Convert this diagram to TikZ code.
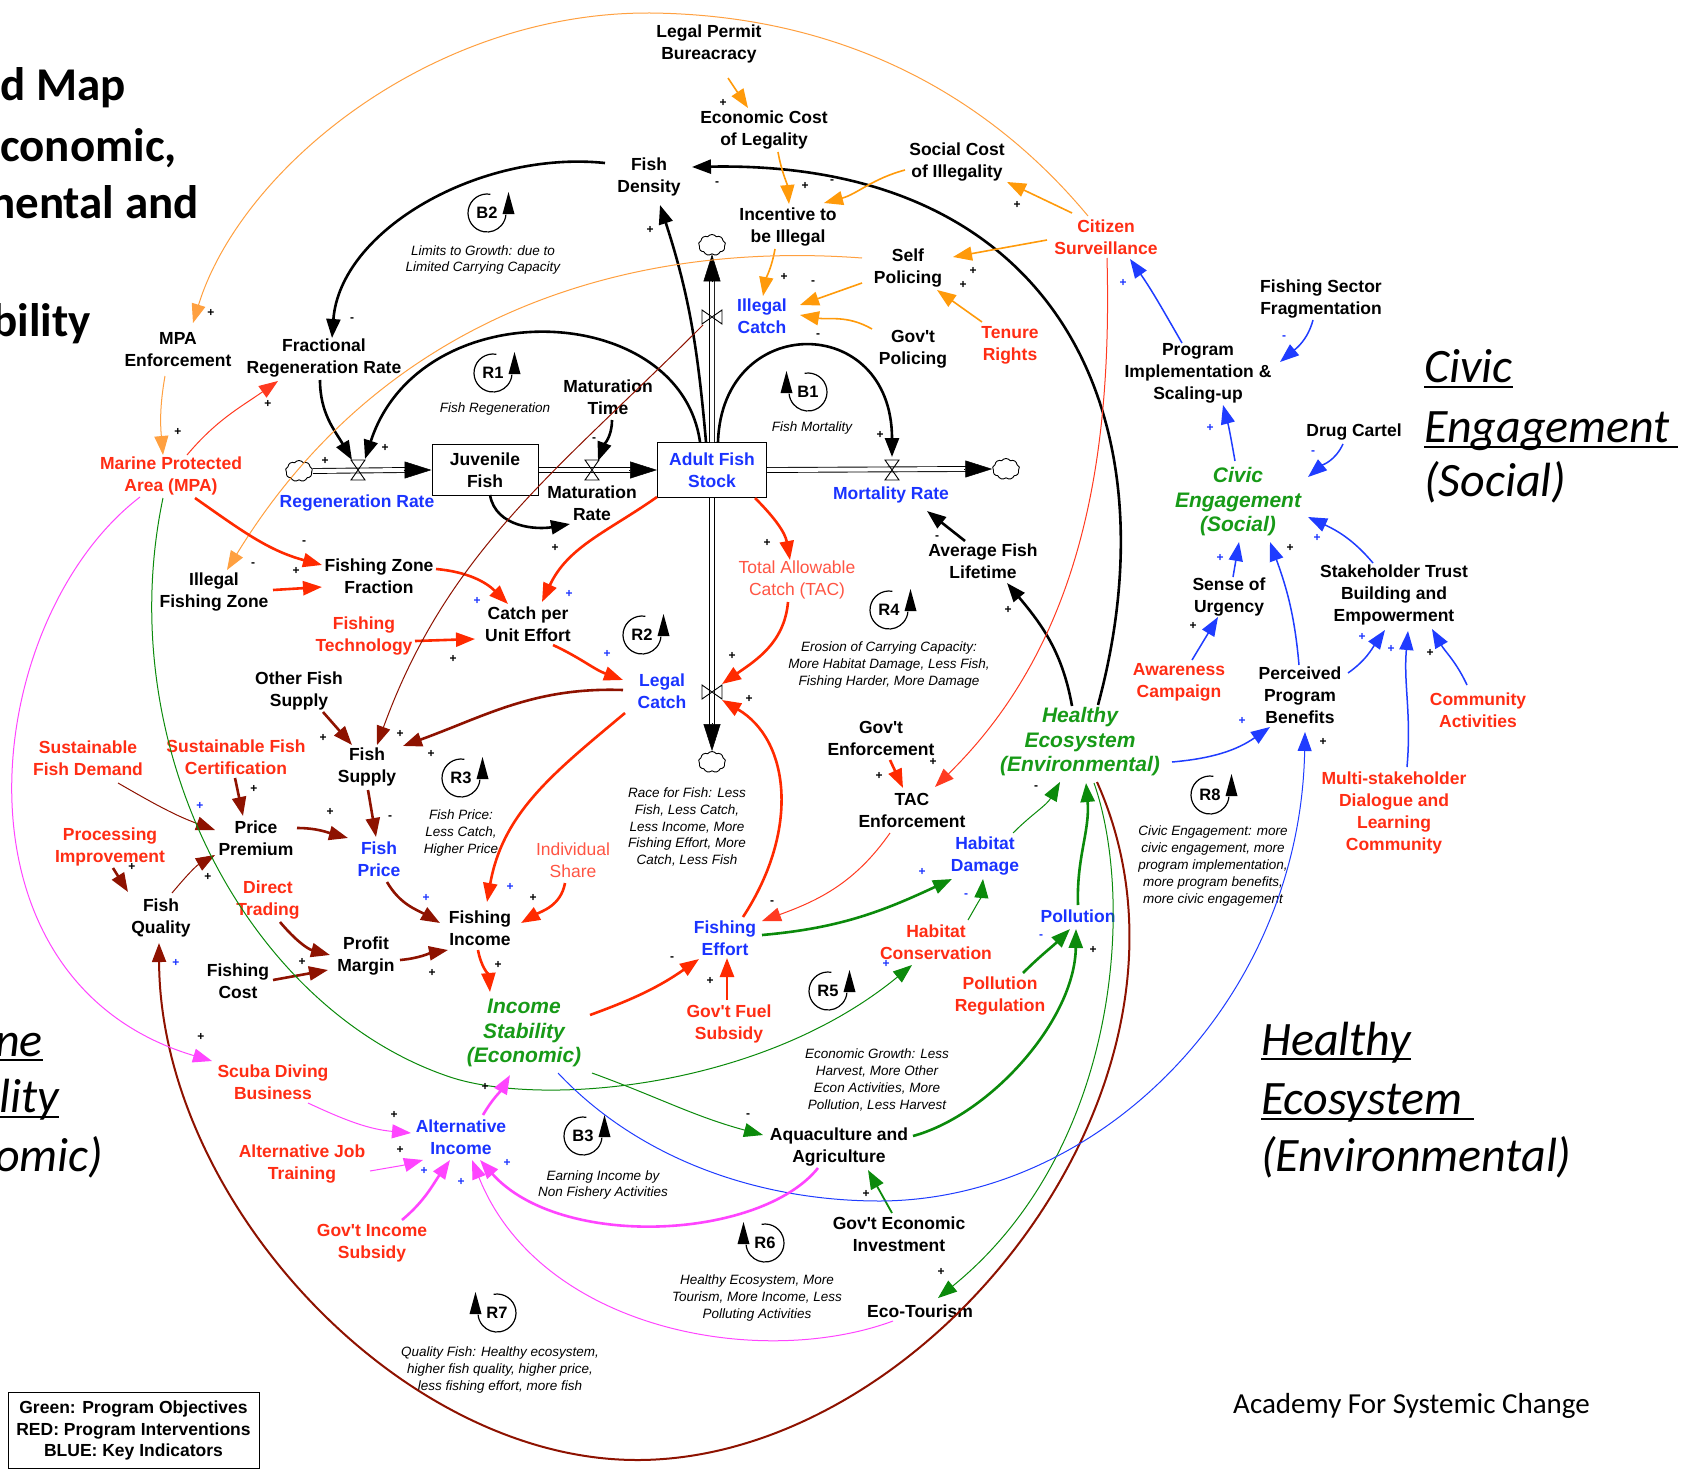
\documentclass[tikz,border=0pt]{standalone}
\usepackage{fontspec}
\setmainfont{Liberation Sans}[Ligatures=TeXOff]
\newfontfamily\calfont{Carlito}
\usetikzlibrary{arrows.meta,shapes.symbols}
\definecolor{tBlue}{HTML}{1A33FF}
\definecolor{tRed}{HTML}{FF2D14}
\definecolor{tRedL}{HTML}{FF5544}
\definecolor{tGreen}{HTML}{179A17}
\definecolor{cOrange}{HTML}{FF9A0A}
\definecolor{cOrangeL}{HTML}{FFA040}
\definecolor{cRed}{HTML}{FF2A00}
\definecolor{cRedL}{HTML}{FF3A20}
\definecolor{cMar}{HTML}{8E1200}
\definecolor{cGreen}{HTML}{0B8A0B}
\definecolor{cBlue}{HTML}{1F3CFF}
\definecolor{cMag}{HTML}{FF45FF}
\tikzset{
 tipA/.tip={Triangle[length=19pt,width=14pt]},
 nv/.style={font=\bfseries\fontsize{17.5}{22}\selectfont,align=center,inner sep=1pt},
 nvb/.style={nv,text=tBlue},
 nvr/.style={nv,text=tRed},
 nvl/.style={font=\fontsize{17.5}{22}\selectfont,align=center,inner sep=1pt,text=tRedL},
 nvg/.style={font=\bfseries\itshape\fontsize{21}{24.5}\selectfont,align=center,inner sep=1pt,text=tGreen},
 ann/.style={font=\itshape\fontsize{13.5}{16.8}\selectfont,align=center,inner sep=0pt},
 sg/.style={font=\bfseries\fontsize{12}{12}\selectfont,inner sep=0pt},
 sgb/.style={sg,text=tBlue},
 looplab/.style={font=\bfseries\fontsize{16.5}{16.5}\selectfont,inner sep=0pt},
 ablk/.style={draw=black,line width=2.6pt,-{tipA}},
 aorg/.style={draw=cOrange,line width=1.6pt,-{tipA}},
 aorgt/.style={draw=cOrangeL,line width=1pt,-{tipA}},
 ared/.style={draw=cRed,line width=2.6pt,-{tipA}},
 aredt/.style={draw=cRedL,line width=1pt,-{tipA}},
 amar/.style={draw=cMar,line width=2.6pt,-{tipA}},
 amart/.style={draw=cMar,line width=1pt,-{tipA}},
 agrn/.style={draw=cGreen,line width=2.6pt,-{tipA}},
 agrnt/.style={draw=cGreen,line width=1pt,-{tipA}},
 ablu/.style={draw=cBlue,line width=1.5pt,-{tipA}},
 ablut/.style={draw=cBlue,line width=1pt,-{tipA}},
 amag/.style={draw=cMag,line width=2.6pt,-{tipA}},
 amagt/.style={draw=cMag,line width=1pt,-{tipA}},
 flowpipe/.style={draw=black,double=white,double distance=4pt,line width=0.9pt},
 flowtip/.style={draw=black,line width=0.5pt,-{Triangle[length=27pt,width=17pt]}},
 cloudst/.style={cloud,draw,cloud puffs=9,cloud puff arc=110,aspect=1.3,minimum width=27pt,minimum height=21pt,inner sep=0pt,line width=0.9pt,fill=white},
 bigtitle/.style={font=\calfont\bfseries\fontsize{47}{56}\selectfont,inner sep=0pt,anchor=base west},
 bigital/.style={font=\calfont\itshape\fontsize{48}{58}\selectfont,inner sep=0pt,anchor=base west},
 pics/hglass/.style={code={\draw[line width=0.9pt] (-7,10)--(7,10)--(-7,-10)--(7,-10)--cycle;}},
 pics/bowtie/.style={code={\draw[line width=0.9pt] (-10,7)--(-10,-7)--(10,7)--(10,-7)--cycle;}},
 pics/loopr/.style={code={\draw[line width=1.2pt] (80:19) arc[start angle=80,end angle=355,radius=19]; \fill (15.5,-1)--(27.5,-1)--(21.5,21)--cycle;}},
 pics/loopl/.style={code={\draw[line width=1.2pt] (100:19) arc[start angle=100,end angle=-175,radius=19]; \fill (-15.5,-1)--(-27.5,-1)--(-21.5,21)--cycle;}},
}
\begin{document}
\begin{tikzpicture}[x=1pt,y=1pt]
\fill[white] (0,0) rectangle (1688,-1469);
\useasboundingbox (0,0) rectangle (1688,-1469);

% ---------- titles ----------
\node[bigtitle] (tt1) at (0,-101) {d Map};
\node[bigtitle] (tt2) at (0,-161) {conomic,};
\node[bigtitle] (tt3) at (-10,-218) {nental and};
\node[bigtitle] (tt4) at (-8,-336) {bility};
\node[bigital] (ts1) at (-5,-1056) {ne};
\node[bigital] (ts2) at (-1,-1112) {lity};
\node[bigital] (ts3) at (-5,-1171) {omic)};
\draw[line width=2.4pt] ([yshift=-4]ts1.base west) -- ([yshift=-4]ts1.base east);
\draw[line width=2.4pt] ([yshift=-5]ts2.base west) -- ([yshift=-5]ts2.base east);
\node[bigital] (rc1) at (1424,-382) {Civic};
\node[bigital] (rc2) at (1424,-442) {Engagement};
\node[bigital] (rc3) at (1424,-496) {(Social)};
\draw[line width=2.4pt] ([yshift=-5]rc1.base west) -- ([yshift=-5]rc1.base east);
\draw[line width=2.4pt] ([yshift=-5]rc2.base west) -- ([yshift=-5,xshift=8]rc2.base east);
\node[bigital] (rh1) at (1261,-1055) {Healthy};
\node[bigital] (rh2) at (1261,-1114) {Ecosystem};
\node[bigital] (rh3) at (1261,-1171) {(Environmental)};
\draw[line width=2.4pt] ([yshift=-4]rh1.base west) -- ([yshift=-4]rh1.base east);
\draw[line width=2.4pt] ([yshift=-5]rh2.base west) -- ([yshift=-5,xshift=12]rh2.base east);
\node[font=\calfont\fontsize{29}{34}\selectfont,inner sep=0pt,anchor=base west] (acad) at (1233,-1413) {Academy For Systemic Change};
\node[draw,line width=1pt,minimum width=251pt,minimum height=76pt,align=center,font=\bfseries\fontsize{17.5}{21.5}\selectfont] (leg) at (133.5,-1430.5) {Green: Program Objectives\\RED: Program Interventions\\BLUE: Key Indicators};

% ---------- stock-flow structure ----------
\node[cloudst] (cl1) at (299,-471) {};
\node[cloudst] (cl2) at (1006,-469) {};
\node[cloudst] (cl3) at (712,-245) {};
\node[cloudst] (cl4) at (712,-762) {};
\node[nv,draw,line width=1pt,minimum width=106pt,minimum height=51pt] (jf) at (485,-470) {Juvenile\\Fish};
\node[nvb,draw=black,line width=1pt,minimum width=109pt,minimum height=55pt] (afs) at (712,-470) {Adult Fish\\Stock};
\coordinate (rv) at (358,-470);
\coordinate (mvv) at (592,-470);
\coordinate (mv) at (892,-470);
\coordinate (icv) at (712,-317);
\coordinate (lcv) at (712,-692);
\draw[flowpipe] (cl1.east) -- ([xshift=-26]jf.west);
\draw[flowtip] ([xshift=-28]jf.west) -- (jf.west);
\draw[flowpipe] (jf.east) -- ([xshift=-26]afs.west);
\draw[flowtip] ([xshift=-28]afs.west) -- (afs.west);
\draw[flowpipe] (afs.east) -- ([xshift=-26]cl2.west);
\draw[flowtip] ([xshift=-28]cl2.west) -- (cl2.west);
\draw[flowpipe] (afs.north) -- ([yshift=-26]cl3.south);
\draw[flowtip] ([yshift=-28]cl3.south) -- (cl3.south);
\draw[flowpipe] (afs.south) -- ([yshift=26]cl4.north);
\draw[flowtip] ([yshift=28]cl4.north) -- (cl4.north);
\pic at (rv) {hglass};
\pic at (mvv) {hglass};
\pic at (mv) {hglass};
\pic at (icv) {bowtie};
\pic at (lcv) {bowtie};

% ---------- variables ----------
\node[nv] (lpb) at (709,-44) {Legal Permit\\Bureacracy};
\node[nv] (ecl) at (764,-130) {Economic Cost\\of Legality};
\node[nv] (fd) at (649,-177) {Fish\\Density};
\node[nv] (sci) at (957,-162) {Social Cost\\of Illegality};
\node[nv] (iti) at (788,-227) {Incentive to\\be Illegal};
\node[nvr] (cs) at (1106,-237) {Citizen\\Surveillance};
\node[nv] (sp) at (908,-268) {Self\\Policing};
\node[nvb] (ic) at (762,-316) {Illegal\\Catch};
\node[nv] (gp) at (913,-349) {Gov't\\Policing};
\node[nvr] (tr) at (1010,-345) {Tenure\\Rights};
\node[nv] (piu) at (1198,-373) {Program\\Implementation \&\\Scaling-up};
\node[nv] (fsf) at (1321,-299) {Fishing Sector\\Fragmentation};
\node[nv] (dc) at (1354,-432) {Drug Cartel};
\node[nv] (mpae) at (178,-350) {MPA\\Enforcement};
\node[nv] (frr) at (324,-358) {Fractional\\Regeneration Rate};
\node[nv] (mt) at (608,-397) {Maturation\\Time};
\node[nvr] (mpa) at (171,-476) {Marine Protected\\Area (MPA)};
\node[nvb] (rr) at (357,-503) {Regeneration Rate};
\node[nv] (mr) at (592,-503) {Maturation\\Rate};
\node[nvb] (mort) at (891,-495) {Mortality Rate};
\node[nvg] (ce) at (1238,-502) {Civic\\Engagement\\(Social)};
\node[nv] (afl) at (983,-561) {Average Fish\\Lifetime};
\node[nv] (ifz) at (214,-592) {Illegal\\Fishing Zone};
\node[nv] (fzf) at (379,-576) {Fishing Zone\\Fraction};
\node[nvl] (tac) at (797,-580) {Total Allowable\\Catch (TAC)};
\node[nvr] (ftech) at (364,-636) {Fishing\\Technology};
\node[nv] (cpue) at (528,-624) {Catch per\\Unit Effort};
\node[nv] (su) at (1229,-597) {Sense of\\Urgency};
\node[nv] (stb) at (1394,-595) {Stakeholder Trust\\Building and\\Empowerment};
\node[nv] (ofs) at (299,-691) {Other Fish\\Supply};
\node[nvb] (lc) at (662,-691) {Legal\\Catch};
\node[nvr] (ac) at (1179,-682) {Awareness\\Campaign};
\node[nv] (ppb) at (1300,-695) {Perceived\\Program\\Benefits};
\node[nvr] (ca) at (1478,-710) {Community\\Activities};
\node[nv] (ge) at (881,-738) {Gov't\\Enforcement};
\node[nvg] (he) at (1080,-742) {Healthy\\Ecosystem\\(Environmental)};
\node[nvr] (sfd) at (88,-758) {Sustainable\\Fish Demand};
\node[nvr] (sfc) at (236,-757) {Sustainable Fish\\Certification};
\node[nv] (fs) at (367,-767) {Fish\\Supply};
\node[nv] (tace) at (912,-810) {TAC\\Enforcement};
\node[nvr] (msd) at (1394,-813) {Multi-stakeholder\\Dialogue and\\Learning\\Community};
\node[nv] (pp) at (256,-838) {Price\\Premium};
\node[nvr] (pi) at (110,-847) {Processing\\Improvement};
\node[nvb] (fp) at (379,-859) {Fish\\Price};
\node[nvl] (is) at (573,-860) {Individual\\Share};
\node[nvb] (hd) at (985,-856) {Habitat\\Damage};
\node[nvr] (dt) at (268,-900) {Direct\\Trading};
\node[nv] (fq) at (161,-918) {Fish\\Quality};
\node[nv] (fi) at (480,-928) {Fishing\\Income};
\node[nvb] (fe) at (725,-938) {Fishing\\Effort};
\node[nvb] (pol) at (1078,-916) {Pollution};
\node[nvr] (hc) at (936,-942) {Habitat\\Conservation};
\node[nv] (pm) at (366,-956) {Profit\\Margin};
\node[nv] (fc) at (238,-981) {Fishing\\Cost};
\node[nvr] (pr) at (1000,-996) {Pollution\\Regulation};
\node[nvg] (ins) at (524,-1033) {Income\\Stability\\(Economic)};
\node[nvr] (gfs) at (729,-1024) {Gov't Fuel\\Subsidy};
\node[nvr] (sdb) at (273,-1082) {Scuba Diving\\Business};
\node[nvb] (ai) at (461,-1137) {Alternative\\Income};
\node[nv] (aa) at (839,-1147) {Aquaculture and\\Agriculture};
\node[nvr] (ajt) at (302,-1164) {Alternative Job\\Training};
\node[nv] (gei) at (899,-1234) {Gov't Economic\\Investment};
\node[nvr] (gis) at (372,-1243) {Gov't Income\\Subsidy};
\node[nv] (eco) at (920,-1311) {Eco-Tourism};

% ---------- annotations ----------
\node[ann] (n1) at (483,-260) {Limits to Growth: due to\\Limited Carrying Capacity};
\node[ann] (n2) at (495,-409) {Fish Regeneration};
\node[ann] (n3) at (812,-428) {Fish Mortality};
\node[ann] (n4) at (889,-665) {Erosion of Carrying Capacity:\\More Habitat Damage, Less Fish,\\Fishing Harder, More Damage};
\node[ann] (n5) at (461,-833) {Fish Price:\\Less Catch,\\Higher Price};
\node[ann] (n6) at (687,-827) {Race for Fish: Less\\Fish, Less Catch,\\Less Income, More\\Fishing Effort, More\\Catch, Less Fish};
\node[ann] (n7) at (1213,-866) {Civic Engagement: more\\civic engagement, more\\program implementation,\\more program benefits,\\more civic engagement};
\node[ann] (n8) at (877,-1080) {Economic Growth: Less\\Harvest, More Other\\Econ Activities, More\\Pollution, Less Harvest};
\node[ann] (n9) at (603,-1185) {Earning Income by\\Non Fishery Activities};
\node[ann] (n10) at (757,-1298) {Healthy Ecosystem, More\\Tourism, More Income, Less\\Polluting Activities};
\node[ann] (n11) at (500,-1370) {Quality Fish: Healthy ecosystem,\\higher fish quality, higher price,\\less fishing effort, more fish};

% ---------- loop symbols ----------
\node[looplab] (lB2) at (487,-213) {B2}; \pic at (lB2.center) {loopr};
\node[looplab] (lR1) at (493,-373) {R1}; \pic at (lR1.center) {loopr};
\node[looplab] (lB1) at (808,-392) {B1}; \pic at (lB1.center) {loopl};
\node[looplab] (lR4) at (889,-610) {R4}; \pic at (lR4.center) {loopr};
\node[looplab] (lR2) at (642,-635) {R2}; \pic at (lR2.center) {loopr};
\node[looplab] (lR3) at (461,-778) {R3}; \pic at (lR3.center) {loopr};
\node[looplab] (lR8) at (1210,-795) {R8}; \pic at (lR8.center) {loopr};
\node[looplab] (lR5) at (828,-991) {R5}; \pic at (lR5.center) {loopr};
\node[looplab] (lB3) at (583,-1136) {B3}; \pic at (lB3.center) {loopr};
\node[looplab] (lR6) at (765,-1243) {R6}; \pic at (lR6.center) {loopl};
\node[looplab] (lR7) at (497,-1313) {R7}; \pic at (lR7.center) {loopl};

% ---------- black links ----------
\draw[ablk] ([shift={(-6,28)}]afs.center) to[out=95,in=-72] ([shift={(11,-28)}]fd.center);
\draw[ablk] ([shift={(-44,14)}]fd.center) .. controls (480,-150) and (340,-230) .. ([shift={(8,20)}]frr.center);
\draw[ablk] ([shift={(6,28)}]afs.center) .. controls (722,-312) and (892,-312) .. ([yshift=13]mv);
\draw[ablk] ([shift={(-12,28)}]afs.center) .. controls (680,-300) and (420,-290) .. ([shift={(7,11)}]rv);
\draw[ablk] ([shift={(-4,-22)}]frr.center) to[out=-90,in=120] ([shift={(-6,10)}]rv);
\draw[ablk] ([shift={(4,-23)}]mt.center) to[out=-90,in=70] ([shift={(6,9)}]mvv);
\draw[ablk] ([shift={(5,-25)}]jf.center) to[out=-80,in=190] ([shift={(-22,-21)}]mr.center);
\draw[ablk] ([shift={(-18,20)}]afl.center) -- ([shift={(36,-16)}]mort.center);
\draw[ablk] ([shift={(-8,36)}]he.center) to[out=100,in=-50] ([shift={(24,-22)}]afl.center);
\draw[ablk] ([shift={(18,37)}]he.center) .. controls (1175,-420) and (1060,-160) .. ([shift={(43,10)}]fd.center);

% ---------- orange links ----------
\draw[aorg] ([shift={(19,-34)}]lpb.center) -- ([shift={(-16,22)}]ecl.center);
\draw[aorg] ([shift={(14,-22)}]ecl.center) to[out=-80,in=95] ([shift={(1,23)}]iti.center);
\draw[aorg] ([shift={(-52,-8)}]sci.center) to[out=195,in=15] ([shift={(36,24)}]iti.center);
\draw[aorg] ([shift={(-34,24)}]cs.center) -- ([shift={(50,-20)}]sci.center);
\draw[aorg] ([shift={(-59,-3)}]cs.center) -- ([shift={(45,11)}]sp.center);
\draw[aorg] ([shift={(-28,23)}]tr.center) -- ([shift={(29,-22)}]sp.center);
\draw[aorg] ([shift={(-13,-22)}]iti.center) to[out=-100,in=80] ([shift={(1,20)}]ic.center);
\draw[aorg] ([shift={(-46,-15)}]sp.center) -- ([shift={(38,11)}]ic.center);
\draw[aorg] ([shift={(-41,20)}]gp.center) to[out=150,in=-10] ([shift={(38,1)}]ic.center);
\draw[aorgt] ([shift={(-18,21)}]cs.center) .. controls (1000,-110) and (860,-15) .. (650,-13) .. controls (430,-12) and (240,-170) .. ([shift={(15,27)}]mpae.center);
\draw[aorgt] ([shift={(-46,10)}]sp.center) .. controls (620,-240) and (380,-320) .. ([shift={(13,22)}]ifz.center);
\draw[aorgt] ([shift={(-13,-26)}]mpae.center) to[out=-100,in=95] ([shift={(-8,21)}]mpa.center);

% ---------- red links ----------
\draw[aredt] ([shift={(16,21)}]mpa.center) to[out=50,in=215] ([shift={(-46,-23)}]frr.center);
\draw[ared] ([shift={(24,-22)}]mpa.center) to[out=-35,in=165] ([shift={(-57,11)}]fzf.center);
\draw[ared] ([shift={(59,2)}]ifz.center) -- ([shift={(-57,-11)}]fzf.center);
\draw[ared] ([shift={(57,7)}]fzf.center) to[out=-5,in=135] ([shift={(-20,20)}]cpue.center);
\draw[ared] ([shift={(51,-5)}]ftech.center) -- ([shift={(-53,-15)}]cpue.center);
\draw[ared] ([shift={(-55,-27)}]afs.center) to[out=215,in=65] ([shift={(14,22)}]cpue.center);
\draw[ared] ([shift={(25,-21)}]cpue.center) to[out=-25,in=160] ([shift={(-39,11)}]lc.center);
\draw[ared] ([shift={(43,-28)}]afs.center) to[out=-45,in=100] ([shift={(-7,20)}]tac.center);
\draw[ared] ([shift={(-9,-22)}]tac.center) to[out=-95,in=35] ([shift={(10,8)}]lcv);
\draw[ared] ([shift={(18,21)}]fe.center) .. controls (800,-830) and (790,-740) .. ([shift={(10,-8)}]lcv);
\draw[ared] ([shift={(-37,-22)}]lc.center) to[out=220,in=80] ([shift={(7,26)}]fi.center);
\draw[ared] ([shift={(-8,-23)}]is.center) to[out=-100,in=30] ([shift={(41,5)}]fi.center);
\draw[ared] ([shift={(-2,-22)}]fi.center) to[out=-80,in=95] ([shift={(-34,41)}]ins.center);
\draw[ared] ([shift={(66,18)}]ins.center) to[out=20,in=215] ([shift={(-26,-21)}]fe.center);
\draw[ared] ([shift={(-2,24)}]gfs.center) -- ([shift={(2,-20)}]fe.center);
\draw[aredt] ([shift={(-22,-23)}]tace.center) to[out=235,in=20] ([shift={(37,17)}]fe.center);
\draw[ared] ([shift={(9,-22)}]ge.center) -- ([shift={(-9,22)}]tace.center);
\draw[aredt] ([shift={(1,-21)}]cs.center) .. controls (1112,-450) and (1085,-640) .. ([shift={(23,23)}]tace.center);

% ---------- maroon links ----------
\draw[amar] ([shift={(-39,1)}]lc.center) to[out=178,in=20] ([shift={(36,21)}]fs.center);
\draw[amart] ([shift={(-9,-8)}]icv) to[out=225,in=70] ([shift={(10,22)}]fs.center);
\draw[amar] ([shift={(24,-21)}]ofs.center) -- ([shift={(-15,22)}]fs.center);
\draw[amar] ([shift={(1,-23)}]fs.center) -- ([shift={(-3,22)}]fp.center);
\draw[amar] ([shift={(-1,-21)}]sfc.center) -- ([shift={(-13,22)}]pp.center);
\draw[amart] ([shift={(30,-25)}]sfd.center) to[out=-30,in=160] ([shift={(-41,8)}]pp.center);
\draw[amar] ([shift={(41,10)}]pp.center) to[out=0,in=165] ([shift={(-31,21)}]fp.center);
\draw[amar] ([shift={(8,-23)}]fp.center) to[out=-60,in=150] ([shift={(-40,5)}]fi.center);
\draw[amar] ([shift={(3,-21)}]pi.center) -- ([shift={(-33,26)}]fq.center);
\draw[amart] ([shift={(11,25)}]fq.center) to[out=50,in=210] ([shift={(-41,-17)}]pp.center);
\draw[amar] ([shift={(12,-22)}]dt.center) to[out=-50,in=165] ([shift={(-36,1)}]pm.center);
\draw[amar] ([shift={(35,1)}]fc.center) -- ([shift={(-38,-14)}]pm.center);
\draw[amar] ([shift={(34,-4)}]pm.center) to[out=5,in=190] ([shift={(-32,-22)}]fi.center);
\draw[amar,line width=2pt] ([shift={(17,-40)}]he.center) .. controls (1230,-1080) and (930,-1460) .. (637,-1460) .. controls (400,-1460) and (160,-1200) .. ([shift={(-2,-25)}]fq.center);

% ---------- green links ----------
\draw[agrnt] ([shift={(28,23)}]hd.center) to[out=45,in=240] ([shift={(-20,-40)}]he.center);
\draw[agrnt] ([shift={(32,22)}]hc.center) to[out=60,in=265] ([shift={(-2,-23)}]hd.center);
\draw[agrn] ([shift={(37,3)}]fe.center) to[out=5,in=205] ([shift={(-33,-23)}]hd.center);
\draw[agrn] ([shift={(0,11)}]pol.center) to[out=92,in=-85] ([shift={(6,-41)}]he.center);
\draw[agrn] ([shift={(23,23)}]pr.center) to[out=45,in=225] ([shift={(-8,-13)}]pol.center);
\draw[agrn] ([shift={(74,11)}]aa.center) .. controls (990,-1115) and (1075,-1020) .. ([shift={(-2,-13)}]pol.center);
\draw[agrnt] ([shift={(68,-40)}]ins.center) to[out=-20,in=165] ([shift={(-76,12)}]aa.center);
\draw[agrn,line width=1.8pt] ([shift={(-7,21)}]gei.center) -- ([shift={(29,-23)}]aa.center);
\draw[agrnt] ([shift={(14,-41)}]he.center) .. controls (1135,-900) and (1120,-1150) .. ([shift={(18,13)}]eco.center);
\draw[agrnt] ([shift={(-8,-22)}]mpa.center) .. controls (110,-750) and (250,-1010) .. (450,-1077) .. controls (540,-1107) and (760,-1090) .. ([shift={(-24,-23)}]hc.center);

% ---------- blue links ----------
\draw[ablu] ([shift={(-16,30)}]piu.center) to[out=120,in=-55] ([shift={(24,-22)}]cs.center);
\draw[ablu] ([shift={(-8,-21)}]fsf.center) to[out=-105,in=40] ([shift={(82,11)}]piu.center);
\draw[ablu] ([shift={(-3,41)}]ce.center) to[out=100,in=-75] ([shift={(25,-32)}]piu.center);
\draw[ablu] ([shift={(-11,-12)}]dc.center) to[out=-115,in=40] ([shift={(70,25)}]ce.center);
\draw[ablu] ([shift={(4,20)}]su.center) -- ([shift={(1,-40)}]ce.center);
\draw[ablu] ([shift={(-1,30)}]ppb.center) to[out=95,in=-70] ([shift={(32,-40)}]ce.center);
\draw[ablu] ([shift={(-21,32)}]stb.center) to[out=130,in=-25] ([shift={(70,-15)}]ce.center);
\draw[ablu] ([shift={(13,22)}]ac.center) -- ([shift={(-11,-20)}]su.center);
\draw[ablu] ([shift={(92,-20)}]he.center) to[out=5,in=215] ([shift={(-30,-32)}]ppb.center);
\draw[ablu] ([shift={(48,22)}]ppb.center) to[out=35,in=235] ([shift={(-9,-35)}]stb.center);
\draw[ablu] ([shift={(13,46)}]msd.center) to[out=85,in=-95] ([shift={(14,-36)}]stb.center);
\draw[ablu] ([shift={(-11,25)}]ca.center) to[out=115,in=-60] ([shift={(38,-34)}]stb.center);
\draw[ablut] ([shift={(34,-40)}]ins.center) .. controls (640,-1160) and (760,-1201) .. (880,-1201) .. controls (1100,-1200) and (1300,-1000) .. ([shift={(5,-37)}]ppb.center);

% ---------- magenta links ----------
\draw[amagt] ([shift={(-31,-21)}]mpa.center) .. controls (-20,-620) and (-60,-980) .. ([shift={(-61,21)}]sdb.center);
\draw[amagt] ([shift={(35,-21)}]sdb.center) to[out=-25,in=175] ([shift={(-50,4)}]ai.center);
\draw[amagt] ([shift={(68,-7)}]ajt.center) to[out=10,in=195] ([shift={(-38,-23)}]ai.center);
\draw[amag] ([shift={(30,23)}]gis.center) to[out=40,in=235] ([shift={(-11,-23)}]ai.center);
\draw[amag] ([shift={(22,22)}]ai.center) to[out=60,in=240] ([shift={(-14,-42)}]ins.center);
\draw[amag] ([shift={(-21,-21)}]aa.center) .. controls (760,-1240) and (560,-1250) .. ([shift={(19,-23)}]ai.center);
\draw[amagt] ([shift={(-27,-10)}]eco.center) .. controls (760,-1370) and (540,-1330) .. ([shift={(11,-23)}]ai.center);

% ---------- polarity signs ----------
\foreach \x/\y/\s [count=\i] in {211/313/+, 352/320/-, 268/404/+, 178/432/+, 325/461/+, 385/448/+,
 723/103/+, 717/184/-, 805/186/+, 832/182/-, 650/230/+, 784/277/+, 813/283/-, 818/336/-, 594/440/-,
 1017/205/+, 973/271/+, 963/285/+, 880/435/+,
 304/543/-, 253/565/-, 296/571/+, 323/738/+, 400/734/+, 431/754/+, 254/789/+, 330/812/+, 390/818/-, 132/867/+, 208/877/+, 302/962/+, 432/973/+,
 555/548/+, 767/543/+, 453/659/+, 732/656/+, 749/699/+, 533/898/+, 772/903/-, 498/965/+, 672/959/-,
 937/538/-, 1008/610/+, 1193/626/+, 933/762/+, 879/776/+, 1036/788/-, 1093/950/+, 1290/548/+,
 1430/653/+, 1323/742/+,
 201/1037/+, 394/1115/+, 400/1150/+, 485/1087/+, 748/1116/-, 710/981/+, 866/1194/+, 941/1272/+}
 \node[sg] (sk\i) at (\x,-\y) {\s};
\foreach \x/\y/\s [count=\i] in {1123/283/+, 1210/428/+, 1284/338/-, 1313/453/-, 200/806/+, 426/898/+, 176/963/+,
 477/601/+, 569/594/+, 607/654/+, 510/887/+, 1220/558/+, 1242/721/+, 922/872/+, 966/896/-, 1041/937/-,
 1317/538/+, 1362/637/+, 1391/649/+, 424/1171/+, 507/1163/+, 461/1182/+, 886/964/+}
 \node[sgb] (sb\i) at (\x,-\y) {\s};
\end{tikzpicture}
\end{document}
